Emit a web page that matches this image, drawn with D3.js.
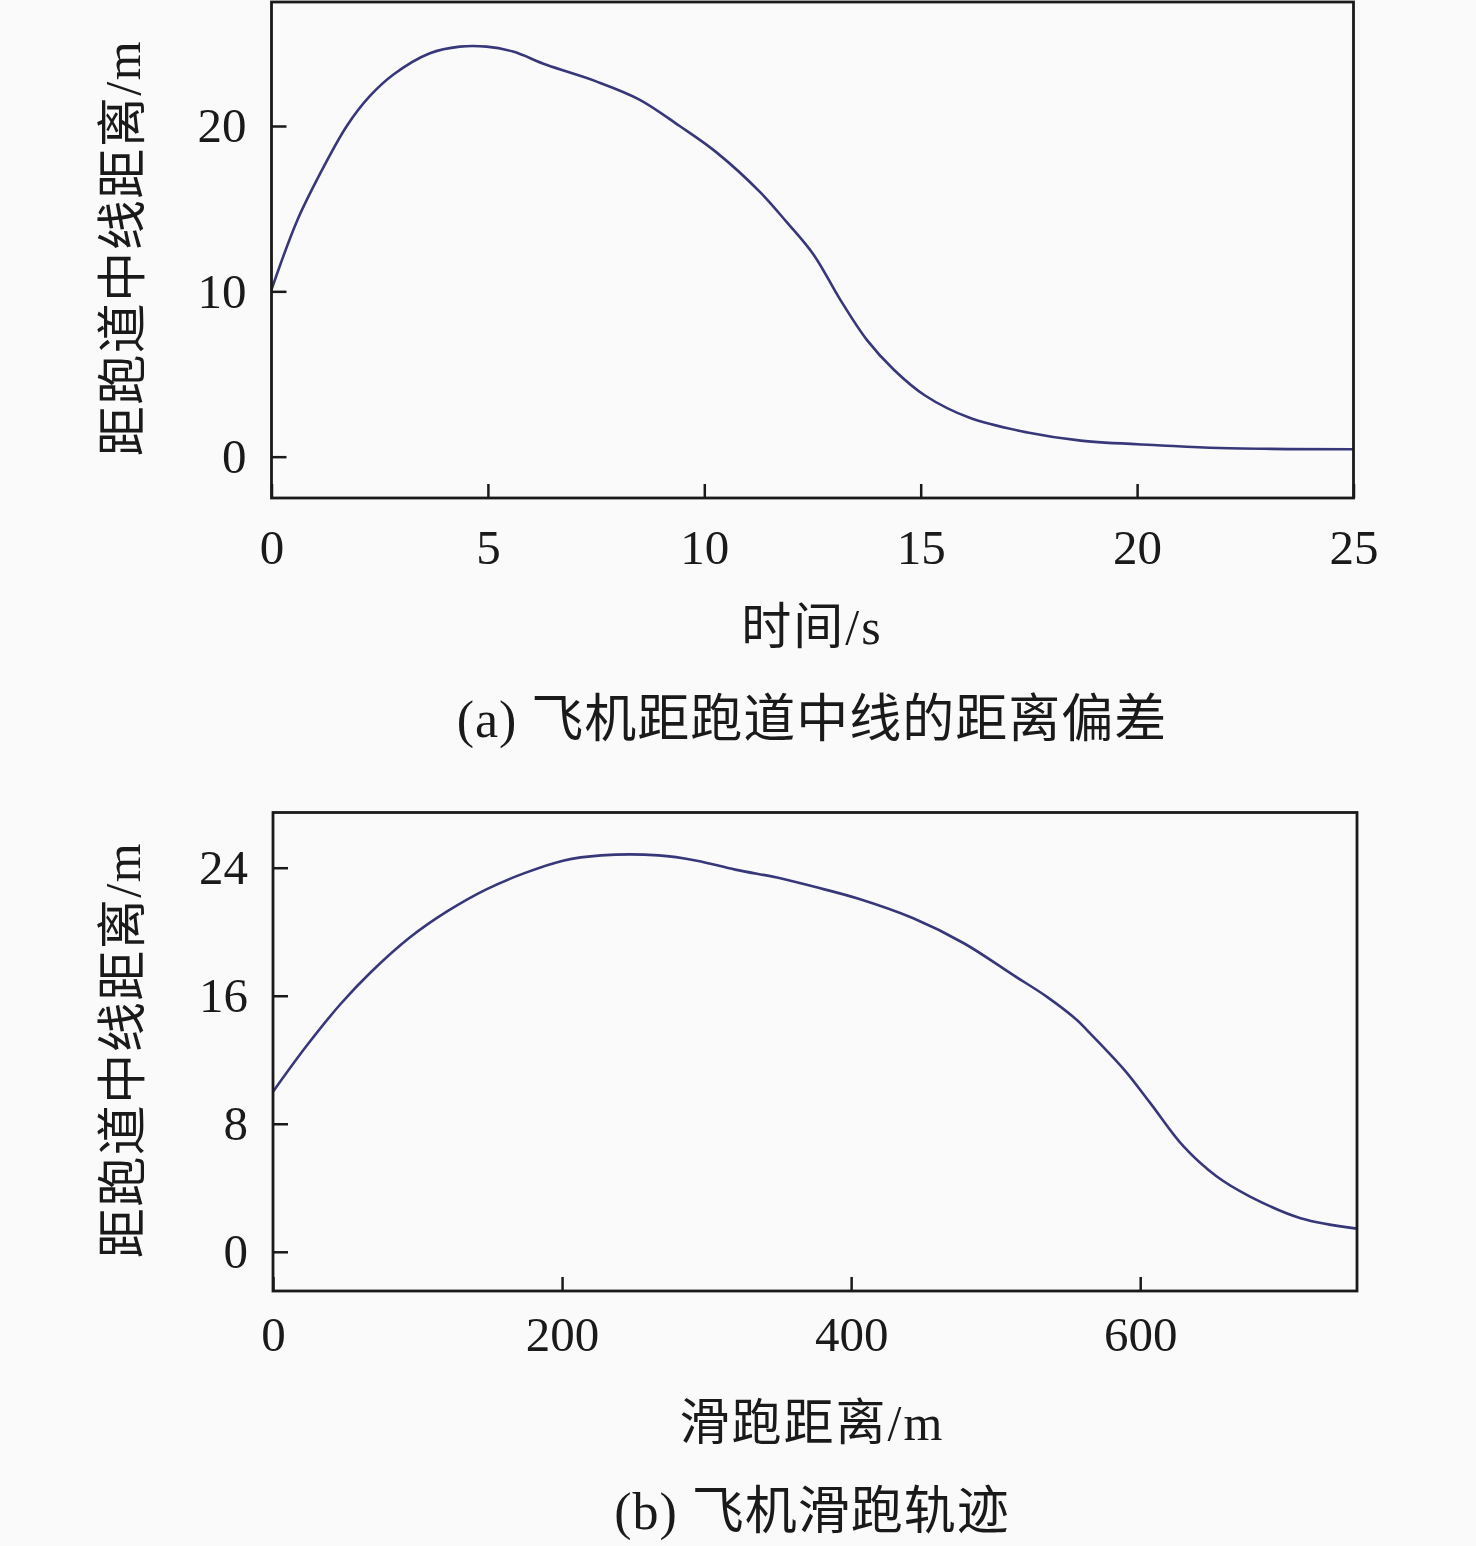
<!DOCTYPE html>
<html>
<head>
<meta charset="utf-8">
<script src="https://cdn.jsdelivr.net/npm/d3@7"></script>
<style>
  html, body { margin: 0; padding: 0; background: #fafafa; }
  svg { display: block; }
  text { font-family: "Liberation Serif", "Noto Sans CJK SC", serif; fill: #1a1a1a; }
</style>
</head>
<body>
<script>
// ---- Data ----
const timeS = [0, 0.58, 1.12, 1.74, 2.27, 2.81, 3.66, 4.35, 4.97, 5.58, 6.35, 7.5, 8.5, 9.43, 10.26, 11.29, 11.9, 12.53, 13.14, 13.76, 14.38, 15.1, 16.13, 17.47, 18.7, 20.56, 21.9, 25];
const offsetA = [10.1, 14.2, 17.1, 20.0, 21.8, 23.1, 24.4, 24.8, 24.8, 24.5, 23.7, 22.7, 21.6, 20.0, 18.45, 16.0, 14.2, 12.2, 9.5, 7.05, 5.26, 3.7, 2.35, 1.46, 0.97, 0.68, 0.52, 0.45];

const rollDist = [0, 23, 46.9, 68, 94.6, 121, 147.6, 174, 200.6, 227, 266.8, 293.3, 319.8, 351, 374, 404, 443, 478, 512, 536, 556, 563, 589, 607, 630, 653, 676, 711, 750];
const offsetB = [10.0, 12.84, 15.5, 17.5, 19.64, 21.3, 22.65, 23.66, 24.44, 24.77, 24.77, 24.44, 23.88, 23.34, 22.82, 22.09, 20.84, 19.28, 17.3, 15.9, 14.5, 13.87, 11.37, 9.29, 6.58, 4.70, 3.45, 2.10, 1.45];

const xTicksA = [0, 5, 10, 15, 20, 25];
const yTicksA = [0, 10, 20];
const xTicksB = [0, 200, 400, 600];
const yTicksB = [0, 8, 16, 24];

const yLabel = "距跑道中线距离/m";
const xLabelA = "时间/s";
const xLabelB = "滑跑距离/m";
const captionA = "(a) 飞机距跑道中线的距离偏差";
const captionB = "(b) 飞机滑跑轨迹";

// ---- Drawing ----
const W = 1476, H = 1546;
const svg = d3.select("body").append("svg").attr("width", W).attr("height", H);
svg.append("rect").attr("width", W).attr("height", H).attr("fill", "#fafafa");

const lineColor = "#37377a";

function panel(cfg) {
  const x = d3.scaleLinear().domain(cfg.xDomain).range([cfg.left, cfg.right]);
  const y = d3.scaleLinear().domain(cfg.yDomain).range([cfg.bottom, cfg.top]);
  const g = svg.append("g");

  // curve
  const data = cfg.xs.map((v, i) => [v, cfg.ys[i]]);
  g.append("path")
    .datum(data)
    .attr("fill", "none")
    .attr("stroke", lineColor)
    .attr("stroke-width", 2.6)
    .attr("stroke-linejoin", "round")
    .attr("d", d3.line().x(d => x(d[0])).y(d => y(d[1])).curve(d3.curveCatmullRom.alpha(0.5)));

  // axes
  const ax = g.append("g").attr("transform", `translate(0,${cfg.bottom})`)
    .call(d3.axisBottom(x).tickValues(cfg.xTicks).tickSize(-14).tickPadding(cfg.xPad).tickFormat(d3.format("d")));
  const ay = g.append("g").attr("transform", `translate(${cfg.left},0)`)
    .call(d3.axisLeft(y).tickValues(cfg.yTicks).tickSize(-15).tickPadding(25).tickFormat(d3.format("d")));
  [ax, ay].forEach(a => {
    a.select(".domain").remove();
    a.selectAll(".tick line").attr("stroke", "#1a1a1a").attr("stroke-width", 2.5);
    a.selectAll(".tick text").attr("font-size", 49).attr("fill", "#1a1a1a")
      .attr("font-family", "Liberation Serif, serif");
  });

  // frame
  g.append("rect")
    .attr("x", cfg.left).attr("y", cfg.top)
    .attr("width", cfg.right - cfg.left).attr("height", cfg.bottom - cfg.top)
    .attr("fill", "none").attr("stroke", "#1a1a1a").attr("stroke-width", 2.8);

  // y label
  g.append("text")
    .attr("transform", `translate(140,${cfg.yLabelY}) rotate(-90)`)
    .attr("text-anchor", "middle")
    .attr("font-size", 50)
    .attr("letter-spacing", 1.5)
    .text(yLabel);

  // x label
  g.append("text")
    .attr("x", 812).attr("y", cfg.xLabelY + 18)
    .attr("text-anchor", "middle")
    .attr("font-size", 50)
    .attr("letter-spacing", 2)
    .text(cfg.xLabel);

  // caption
  g.append("text")
    .attr("x", 812).attr("y", cfg.captionY + 19)
    .attr("text-anchor", "middle")
    .attr("font-size", 52)
    .attr("letter-spacing", cfg.capSpacing)
    .text(cfg.caption);
}

panel({
  xs: timeS, ys: offsetA,
  xDomain: [0, 25], yDomain: [-2.5, 27.5],
  left: 271.5, right: 1353.5, top: 2, bottom: 498,
  xTicks: xTicksA, yTicks: yTicksA, xPad: 31,
  yLabelY: 248, xLabel: xLabelA, xLabelY: 626,
  caption: captionA, captionY: 718, capSpacing: 1
});

panel({
  xs: rollDist, ys: offsetB,
  xDomain: [0, 750], yDomain: [-2.45, 27.45],
  left: 273, right: 1357, top: 812.5, bottom: 1291,
  xTicks: xTicksB, yTicks: yTicksB, xPad: 25,
  yLabelY: 1050, xLabel: xLabelB, xLabelY: 1422,
  caption: captionB, captionY: 1510, capSpacing: 1
});
</script>
</body>
</html>
